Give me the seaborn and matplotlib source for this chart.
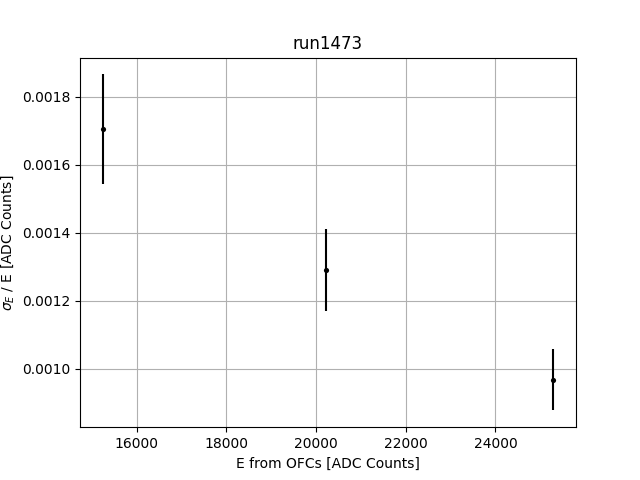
import numpy as np
import pandas as pd
import matplotlib
matplotlib.use("Agg")
import matplotlib.pyplot as plt
import seaborn as sns

# Data
energy = [15240, 20225, 25295]
resolution = [0.001705, 0.001291, 0.000967]
resolution_err = [0.000161, 0.000121, 0.000090]

df = pd.DataFrame({"E": energy, "res": resolution, "err": resolution_err})

fig, ax = plt.subplots(figsize=(6.4, 4.8), dpi=100)
ax.errorbar(df["E"], df["res"], yerr=df["err"], fmt="none", ecolor="k", elinewidth=1.5, zorder=3)
sns.scatterplot(data=df, x="E", y="res", color="k", marker="o", s=14, edgecolor="k", linewidth=0, ax=ax, zorder=4)

ax.grid(True, color="#b0b0b0", linewidth=0.8)
ax.set_axisbelow(True)
ax.set_title("run1473")
ax.set_xlabel("E from OFCs [ADC Counts]")
ax.set_ylabel(r"$\sigma_E$ / E [ADC Counts]")

fig.savefig("out.png", dpi=100)
